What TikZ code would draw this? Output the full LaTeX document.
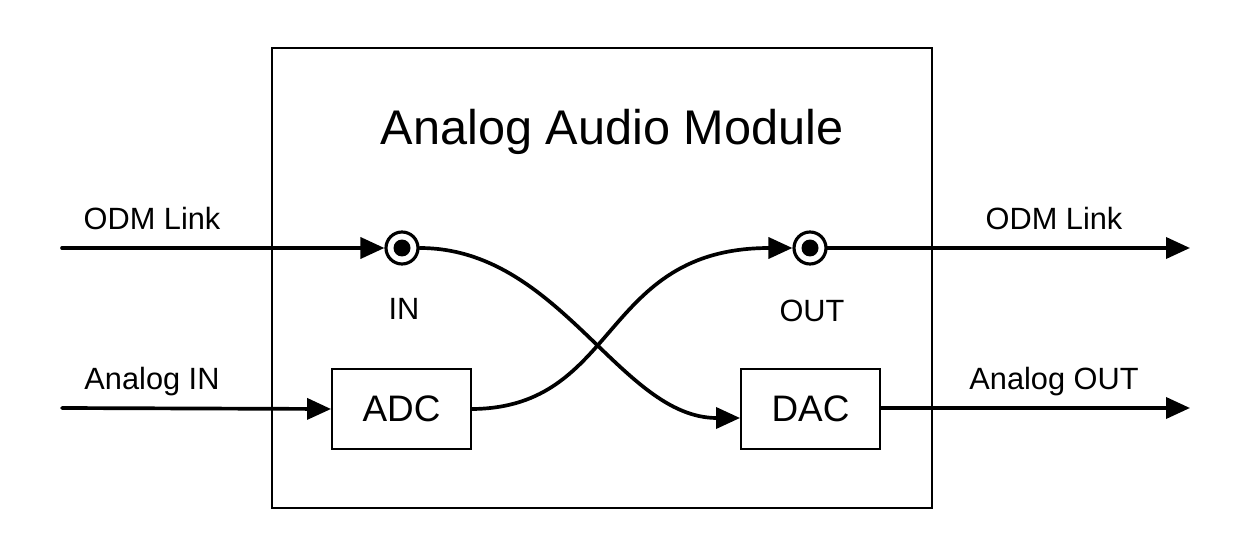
\documentclass[tikz,border=0pt]{standalone}
\usepackage{fontspec}
\setmainfont{Liberation Sans}
\usetikzlibrary{arrows.meta}
\begin{document}
\begin{tikzpicture}[x=0.02cm,y=-0.02cm,
  wire/.style={line width=2.1pt,line cap=round,-{Triangle[length=0.48cm,width=0.42cm]}},
  conv/.style={draw,line width=1.1pt,minimum width=2.78cm,minimum height=1.6cm,inner sep=0pt,font=\fontsize{21}{24}\selectfont},
  lbl/.style={font=\fontsize{17.5}{20}\selectfont,inner sep=0pt},
  jack/.style={circle,draw,line width=1.8pt,minimum size=0.64cm,inner sep=0pt},
  dot/.style={circle,fill,minimum size=0.34cm,inner sep=0pt}]
\useasboundingbox (0,0) rectangle (1240,560);
\fill[white] (0,0) rectangle (1240,560);
\node[draw,line width=1.1pt,minimum width=13.2cm,minimum height=9.2cm,inner sep=0pt] (module) at (602,278) {};
\node[font=\fontsize{27.7}{32}\selectfont] (title) at (612,132) {Analog Audio Module};
% jacks
\node[jack] (in) at (402,248) {};
\node[dot] (indot) at (402,248) {};
\node[jack] (out) at (810,248) {};
\node[dot] (outdot) at (810,248) {};
\node[lbl] (inlbl) at (404,309) {IN};
\node[lbl] (outlbl) at (812,311) {OUT};
% converters
\node[conv] (adc) at (401.5,409) {ADC};
\node[conv] (dac) at (810.5,409) {DAC};
% external ends
\coordinate (odmin) at (62,248);
\coordinate (odmout) at (1190,248);
\coordinate (anin) at (62,408);
\coordinate (anout) at (1190,408);
% labels
\node[lbl] (l1) at (152,219) {ODM Link};
\node[lbl] (l2) at (152,382) {Analog IN};
\node[lbl] (l3) at (1054,219) {ODM Link};
\node[lbl] (l4) at (1054,382) {Analog OUT};
% wires
\draw[wire] (odmin) -- (in.west);
\draw[wire] (out.east) -- (odmout);
\draw[wire] (anin) -- (adc.west);
\draw[wire] (dac.east |- anout) -- (anout);
\draw[wire] (in.east) .. controls (560,248) and (620,418) .. (dac.west |- 0,418);
\draw[wire] (adc.east) .. controls (620,408) and (600,248) .. (out.west);
\end{tikzpicture}
\end{document}
